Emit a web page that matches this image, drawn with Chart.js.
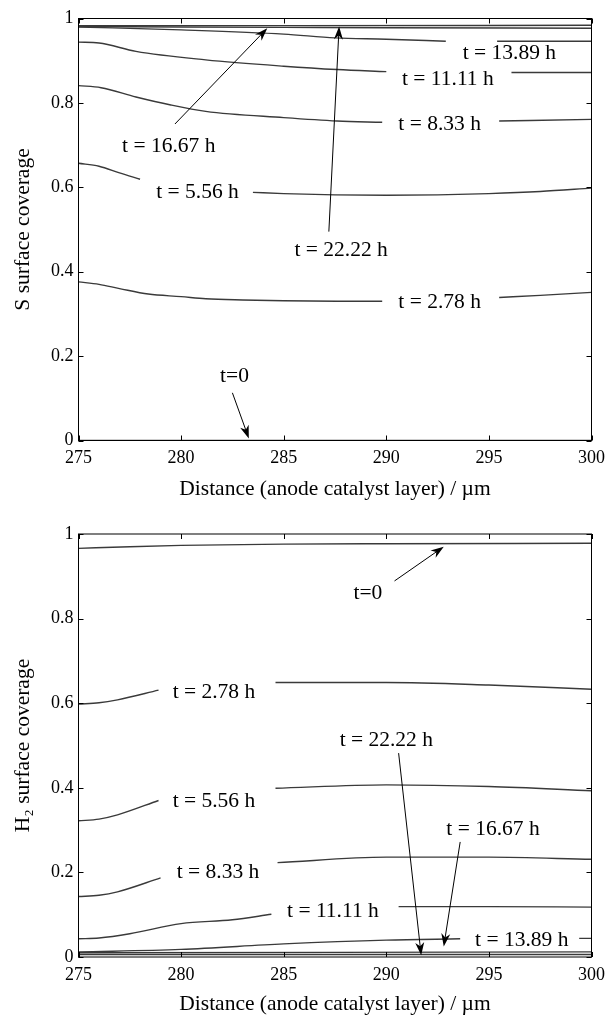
<!DOCTYPE html>
<html>
<head>
<meta charset="utf-8">
<script src="https://cdn.jsdelivr.net/npm/chart.js@4.4.0/dist/chart.umd.min.js"></script>
<style>
  body { margin: 0; background: #fff; width: 612px; }
  .box { position: relative; width: 612px; }
</style>
</head>
<body>
<div class="box" style="height:505px"><canvas id="sChart"></canvas></div>
<div class="box" style="height:512px"><canvas id="hChart"></canvas></div>
<script>
// x range and tick labels
var xTicks = [275, 280, 285, 290, 295, 300];
var yTickLabels = ['0', '0.2', '0.4', '0.6', '0.8', '1'];
var curveNames = ['t=0', 't = 2.78 h', 't = 5.56 h', 't = 8.33 h', 't = 11.11 h', 't = 13.89 h', 't = 16.67 h', 't = 22.22 h'];

// S surface coverage, [distance, coverage]; null = gap for the label
var s0 = [[275, 0], [300, 0]];
var s278 = [[275, 0.376], [276, 0.370], [277, 0.360], [278.4, 0.347], [280, 0.341], [281.2, 0.336], [283, 0.333], [285, 0.331], [287.6, 0.330], [289.8, 0.330], [292.6, null], [295.5, 0.339], [297.5, 0.344], [300, 0.351]];
var s556 = [[275, 0.657], [276, 0.650], [277, 0.634], [278, 0.619], [280.8, null], [283.5, 0.588], [285, 0.585], [287.5, 0.582], [290, 0.581], [292.5, 0.582], [295, 0.585], [297.5, 0.590], [300, 0.598]];
var s833 = [[275, 0.841], [276.1, 0.836], [277.8, 0.814], [279.5, 0.795], [281.2, 0.780], [285, 0.765], [287.6, 0.757], [289.8, 0.754], [292.6, null], [295.5, 0.757], [300, 0.761]];
var s1111 = [[275, 0.944], [276, 0.942], [277.8, 0.922], [281.2, 0.902], [285, 0.887], [287.6, 0.879], [290, 0.874], [293, null], [296.1, 0.872], [300, 0.872]];
var s1389 = [[275, 0.980], [280, 0.973], [285, 0.963], [287.5, 0.954], [290, 0.951], [292.9, 0.946], [294, null], [295.4, 0.946], [300, 0.946]];
var s1667 = [[275, 0.981], [280, 0.980], [285, 0.979], [290, 0.978], [300, 0.977]];
var s2222 = [[275, 0.983], [285, 0.983], [300, 0.984]];

// H2 surface coverage
var h0 = [[275, 0.966], [277.5, 0.970], [280, 0.973], [285, 0.976], [290, 0.977], [300, 0.978]];
var h278 = [[275, 0.598], [276, 0.601], [276.9, 0.608], [278.9, 0.631], [281.6, null], [284.6, 0.649], [290, 0.649], [295, 0.643], [300, 0.633]];
var h556 = [[275, 0.322], [276, 0.326], [276.9, 0.336], [278.9, 0.370], [281.6, null], [284.6, 0.399], [290, 0.407], [295, 0.403], [300, 0.393]];
var h833 = [[275, 0.143], [276, 0.146], [276.9, 0.154], [279, 0.187], [281.8, null], [284.7, 0.223], [290, 0.236], [295, 0.236], [300, 0.231]];
var h1111 = [[275, 0.043], [276, 0.045], [277.5, 0.055], [280, 0.079], [282.5, 0.088], [284.4, 0.101], [287.4, null], [290.6, 0.119], [295, 0.119], [300, 0.118]];
var h1389 = [[275, 0.012], [280, 0.018], [285, 0.031], [290, 0.040], [293.6, 0.043], [296.6, null], [299.4, 0.044], [300, 0.044]];
var h1667 = [[275, 0.010], [300, 0.012]];
var h2222 = [[275, 0.006], [300, 0.006]];

// curve labels [text, x, y] and arrows [x0, y0, x1, y1] in data units
var sLabels = [['t = 13.89 h', 296.0, 0.917], ['t = 11.11 h', 293.0, 0.855], ['t = 8.33 h', 292.6, 0.750],
  ['t = 16.67 h', 279.4, 0.698], ['t = 5.56 h', 280.8, 0.588], ['t = 22.22 h', 287.8, 0.450],
  ['t = 2.78 h', 292.6, 0.327], ['t=0', 282.6, 0.153]];
var sArrows = [[279.7, 0.75, 284.2, 0.977], [287.2, 0.495, 287.7, 0.981], [282.5, 0.113, 283.3, 0.005]];
var hLabels = [['t=0', 289.1, 0.860], ['t = 2.78 h', 281.6, 0.625], ['t = 5.56 h', 281.6, 0.369],
  ['t = 8.33 h', 281.8, 0.199], ['t = 11.11 h', 287.4, 0.107], ['t = 13.89 h', 296.6, 0.039],
  ['t = 22.22 h', 290.0, 0.513], ['t = 16.67 h', 295.2, 0.302]];
var hArrows = [[290.4, 0.889, 292.8, 0.970], [290.6, 0.482, 291.7, 0.004], [293.6, 0.272, 292.8, 0.025]];

var serif = '"Liberation Serif", "DejaVu Serif", serif';

function toPoints(arr) {
  return arr.map(function (p) { return { x: p[0], y: p[1] }; });
}

function drawArrow(ctx, x0, y0, x1, y1) {
  var a = Math.atan2(y1 - y0, x1 - x0);
  var c = Math.cos(a), s = Math.sin(a);
  var L = 13, W = 4.5;
  ctx.beginPath();
  ctx.moveTo(x0, y0);
  ctx.lineTo(x1 - c * L * 0.6, y1 - s * L * 0.6);
  ctx.stroke();
  ctx.beginPath();
  ctx.moveTo(x1, y1);
  ctx.lineTo(x1 - L * c + W * s, y1 - L * s - W * c);
  ctx.lineTo(x1 - L * 0.7 * c, y1 - L * 0.7 * s);
  ctx.lineTo(x1 - L * c - W * s, y1 - L * s + W * c);
  ctx.closePath();
  ctx.fill();
}

var decor = {
  id: 'decor',
  afterDatasetsDraw: function (chart, args, opts) {
    var ctx = chart.ctx, a = chart.chartArea;
    var x = chart.scales.x, y = chart.scales.y;
    ctx.save();
    ctx.strokeStyle = '#000';
    ctx.fillStyle = '#000';
    ctx.lineWidth = 1;
    ctx.strokeRect(a.left, a.top, a.right - a.left, a.bottom - a.top);
    ctx.beginPath();
    x.ticks.forEach(function (t) {
      var px = Math.round(x.getPixelForValue(t.value)) + 0.5;
      ctx.moveTo(px, a.bottom); ctx.lineTo(px, a.bottom - 5);
      ctx.moveTo(px, a.top); ctx.lineTo(px, a.top + 5);
    });
    y.ticks.forEach(function (t) {
      var py = Math.round(y.getPixelForValue(t.value)) + 0.5;
      ctx.moveTo(a.left, py); ctx.lineTo(a.left + 5, py);
      ctx.moveTo(a.right, py); ctx.lineTo(a.right - 5, py);
    });
    ctx.stroke();
    ctx.font = '21.5px ' + serif;
    ctx.textAlign = 'center';
    ctx.textBaseline = 'middle';
    opts.labels.forEach(function (l) {
      ctx.fillText(l[0], x.getPixelForValue(l[1]), y.getPixelForValue(l[2]));
    });
    opts.arrows.forEach(function (r) {
      drawArrow(ctx, x.getPixelForValue(r[0]), y.getPixelForValue(r[1]),
        x.getPixelForValue(r[2]), y.getPixelForValue(r[3]));
    });
    ctx.restore();
  }
};

function coverageChart(id, series, yTitle, labels, arrows, pad) {
  var ctx = document.getElementById(id).getContext('2d');
  return new Chart(ctx, {
    type: 'line',
    data: {
      datasets: series.map(function (d, i) {
        return {
          label: curveNames[i],
          data: toPoints(d),
          borderColor: '#3a3a3a',
          borderWidth: 1.4,
          pointRadius: 0,
          cubicInterpolationMode: 'monotone',
          spanGaps: false
        };
      })
    },
    options: {
      responsive: true,
      maintainAspectRatio: false,
      animation: false,
      layout: { padding: { top: pad.top, right: 13.5, left: 0, bottom: 0 } },
      plugins: {
        legend: { display: false },
        tooltip: { enabled: false },
        decor: { labels: labels, arrows: arrows }
      },
      scales: {
        x: {
          type: 'linear',
          min: xTicks[0],
          max: xTicks[xTicks.length - 1],
          afterBuildTicks: function (scale) {
            scale.ticks = xTicks.map(function (v) { return { value: v }; });
          },
          ticks: { color: '#000', padding: 7, maxRotation: 0, font: { family: serif, size: 18 } },
          grid: { display: false, drawTicks: false },
          border: { display: false },
          title: {
            display: true,
            text: 'Distance (anode catalyst layer) / µm',
            color: '#000',
            font: { family: serif, size: 21.5 },
            padding: { top: 0, bottom: pad.title }
          },
          afterFit: function (scale) { scale.height = pad.axis; }
        },
        y: {
          min: 0,
          max: 1,
          ticks: {
            stepSize: 0.2,
            color: '#000',
            padding: 5,
            font: { family: serif, size: 18 },
            callback: function (v, i) { return yTickLabels[i]; }
          },
          grid: { display: false, drawTicks: false },
          border: { display: false },
          title: {
            display: true,
            text: yTitle,
            color: '#000',
            font: { family: serif, size: 21.5 },
            padding: { top: 10, bottom: 0 }
          },
          afterFit: function (scale) { scale.width = 78.5; }
        }
      }
    },
    plugins: [decor]
  });
}

coverageChart('sChart', [s0, s278, s556, s833, s1111, s1389, s1667, s2222], 'S surface coverage',
  sLabels, sArrows, { top: 18.5, axis: 64.5, title: 3 });
coverageChart('hChart', [h0, h278, h556, h833, h1111, h1389, h1667, h2222], 'H\u2082 surface coverage',
  hLabels, hArrows, { top: 29, axis: 60, title: 0 });
</script>
</body>
</html>
